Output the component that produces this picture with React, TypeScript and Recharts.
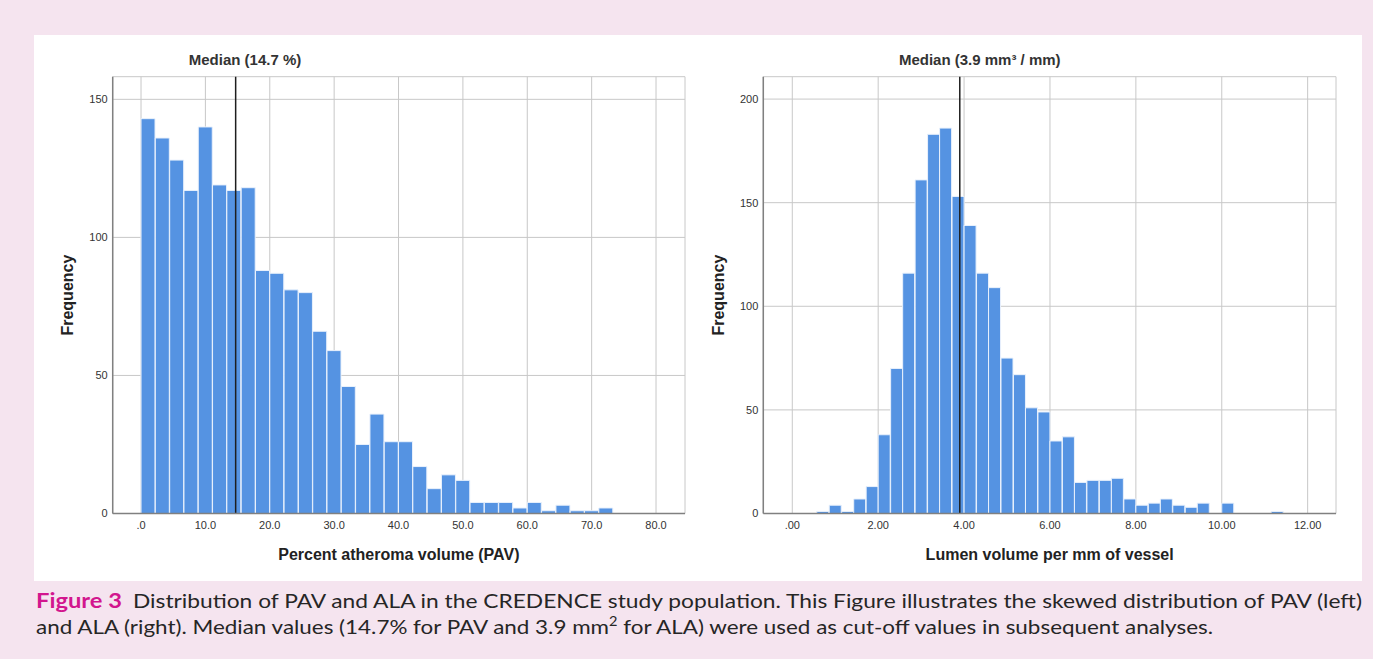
import React from 'react';
import { BarChart, Bar, XAxis, YAxis, CartesianGrid, ReferenceLine } from 'recharts';

// ---- Left histogram: Percent atheroma volume (PAV) ----
const pavBinCenters = [
  1.11, 3.33, 5.56, 7.78, 10.0, 12.22, 14.44, 16.67, 18.89, 21.11, 23.33,
  25.56, 27.78, 30.0, 32.22, 34.44, 36.67, 38.89, 41.11, 43.33, 45.56, 47.78,
  50.0, 52.22, 54.44, 56.67, 58.89, 61.11, 63.33, 65.56, 67.78, 70.0, 72.22,
];
const pavCounts = [
  143, 136, 128, 117, 140, 119, 117, 118, 88, 87, 81,
  80, 66, 59, 46, 25, 36, 26, 26, 17, 9, 14,
  12, 4, 4, 4, 2, 4, 1, 3, 1, 1, 2,
];
const pavTicks = [0, 10, 20, 30, 40, 50, 60, 70, 80];
const pavTickLabels = ['.0', '10.0', '20.0', '30.0', '40.0', '50.0', '60.0', '70.0', '80.0'];
const pavFreqTicks = [0, 50, 100, 150];
const pavMedian = 14.7;
const pavTitle = 'Median (14.7 %)';
const pavXLabel = 'Percent atheroma volume (PAV)';

// ---- Right histogram: Lumen volume per mm of vessel (ALA) ----
const alaBinCenters = [
  0.71, 1.0, 1.29, 1.57, 1.86, 2.14, 2.43, 2.71, 3.0, 3.29, 3.57, 3.86, 4.14,
  4.43, 4.71, 5.0, 5.29, 5.57, 5.86, 6.14, 6.43, 6.71, 7.0, 7.29, 7.57, 7.86,
  8.14, 8.43, 8.71, 9.0, 9.29, 9.57, 9.86, 10.14, 10.43, 10.71, 11.0, 11.29,
];
const alaCounts = [
  1, 4, 1, 7, 13, 38, 70, 116, 161, 183, 186, 153, 139,
  116, 109, 75, 67, 51, 49, 35, 37, 15, 16, 16, 17, 7,
  4, 5, 7, 4, 3, 5, 0, 5, 0, 0, 0, 1,
];
const alaTicks = [0, 2, 4, 6, 8, 10, 12];
const alaTickLabels = ['.00', '2.00', '4.00', '6.00', '8.00', '10.00', '12.00'];
const alaFreqTicks = [0, 50, 100, 150, 200];
const alaMedian = 3.9;
const alaTitle = 'Median (3.9 mm\u00B3 / mm)';
const alaXLabel = 'Lumen volume per mm of vessel';

const yLabel = 'Frequency';

const captionBold = 'Figure 3';
const captionLine1 = 'Distribution of PAV and ALA in the CREDENCE study population. This Figure illustrates the skewed distribution of PAV (left)';
const captionLine2a = 'and ALA (right). Median values (14.7% for PAV and 3.9 mm';
const captionLine2sup = '2';
const captionLine2b = ' for ALA) were used as cut-off values in subsequent analyses.';

const FONT = '"Liberation Sans", Arial, Helvetica, sans-serif';
const CAPTION_FONT = "Lato, 'Open Sans', sans-serif";
const BAR_COLOR = '#5593e2';
const GRID_COLOR = '#c8c8c8';
const AXIS_COLOR = '#808080';

type HistProps = {
  data: { x: number; count: number }[];
  xDomain: [number, number];
  yDomain: [number, number];
  xTicks: number[];
  xTickLabels: string[];
  yTicks: number[];
  median: number;
  title: string;
  titleDx: number;
  xLabel: string;
  margin: { top: number; right: number; bottom: number; left: number };
  yAxisWidth: number;
  width: number;
  height: number;
};

function Histogram(p: HistProps) {
  const renderTitle = (props: any) => {
    const vb = props.viewBox || {};
    return (
      <text
        x={vb.x + p.titleDx}
        y={vb.y - 12}
        textAnchor="middle"
        fontSize={15}
        fontWeight="bold"
        fill="#333333"
        fontFamily={FONT}
      >
        {p.title}
      </text>
    );
  };
  return (
    <BarChart
      width={p.width}
      height={p.height}
      data={p.data}
      margin={p.margin}
      barCategoryGap={0}
      barGap={0}
      style={{ fontFamily: FONT }}
    >
      <CartesianGrid stroke={GRID_COLOR} strokeWidth={1} />
      <XAxis
        type="number"
        dataKey="x"
        domain={p.xDomain}
        allowDataOverflow
        ticks={p.xTicks}
        interval={0}
        tickFormatter={(v: number) => {
          const i = p.xTicks.indexOf(v);
          return i >= 0 ? p.xTickLabels[i] : String(v);
        }}
        tickLine={false}
        tickSize={0}
        tickMargin={8}
        axisLine={{ stroke: AXIS_COLOR, strokeWidth: 1.5 }}
        tick={{ fill: '#333333', fontSize: 11 }}
        height={60}
        label={{
          value: p.xLabel,
          position: 'insideBottom',
          offset: 14,
          fill: '#222222',
          fontSize: 16,
          fontWeight: 'bold',
        }}
      />
      <YAxis
        type="number"
        domain={p.yDomain}
        allowDataOverflow
        ticks={p.yTicks}
        interval={0}
        tickLine={false}
        tickSize={0}
        tickMargin={5}
        width={p.yAxisWidth}
        axisLine={{ stroke: AXIS_COLOR, strokeWidth: 1.5 }}
        tick={{ fill: '#333333', fontSize: 11 }}
        label={{
          value: yLabel,
          angle: -90,
          position: 'center',
          fill: '#222222',
          fontSize: 16,
          fontWeight: 'bold',
        }}
      />
      <Bar
        dataKey="count"
        fill={BAR_COLOR}
        stroke="#e9f1fc"
        strokeWidth={1}
        isAnimationActive={false}
      />
      <ReferenceLine
        x={p.median}
        stroke="#1e1e1e"
        strokeWidth={1.5}
        ifOverflow="extendDomain"
        label={renderTitle}
      />
    </BarChart>
  );
}

export default function App() {
  const pavData = pavBinCenters.map((x, i) => ({ x, count: pavCounts[i] }));
  const alaData = alaBinCenters.map((x, i) => ({ x, count: alaCounts[i] }));
  return (
    <div
      style={{
        position: 'absolute',
        left: 0,
        top: 0,
        width: 1373,
        height: 659,
        background: '#f5e4ef',
        overflow: 'hidden',
      }}
    >
      <div
        style={{
          position: 'absolute',
          left: 34,
          top: 35,
          width: 1328,
          height: 546,
          background: '#ffffff',
        }}
      />
      <div style={{ position: 'absolute', left: 0, top: 0 }}>
        <Histogram
          data={pavData}
          xDomain={[-4.4, 84.5]}
          yDomain={[0, 158.2]}
          xTicks={pavTicks}
          xTickLabels={pavTickLabels}
          yTicks={pavFreqTicks}
          median={pavMedian}
          title={pavTitle}
          titleDx={9.4}
          xLabel={pavXLabel}
          margin={{ top: 76.7, right: 15, bottom: 6.5, left: 21.3 }}
          yAxisWidth={91.4}
          width={700}
          height={580}
        />
      </div>
      <div style={{ position: 'absolute', left: 660, top: 0 }}>
        <Histogram
          data={alaData}
          xDomain={[-0.675, 12.66]}
          yDomain={[0, 210.8]}
          xTicks={alaTicks}
          xTickLabels={alaTickLabels}
          yTicks={alaFreqTicks}
          median={alaMedian}
          title={alaTitle}
          titleDx={20}
          xLabel={alaXLabel}
          margin={{ top: 76.7, right: 24, bottom: 6.5, left: 12.7 }}
          yAxisWidth={90.6}
          width={700}
          height={580}
        />
      </div>
      <svg
        width={1373}
        height={659}
        style={{ position: 'absolute', left: 0, top: 0, pointerEvents: 'none' }}
      >
        <text
          x={36}
          y={608}
          fontFamily={CAPTION_FONT}
          fontSize={20}
          fontWeight="bold"
          fill="#d2168e"
          textLength={86}
          lengthAdjust="spacingAndGlyphs"
        >
          {captionBold}
        </text>
        <text
          x={133}
          y={608}
          fontFamily={CAPTION_FONT}
          fontSize={20}
          fill="#262626"
          textLength={1229}
          lengthAdjust="spacingAndGlyphs"
        >
          {captionLine1}
        </text>
        <text
          x={36}
          y={634}
          fontFamily={CAPTION_FONT}
          fontSize={20}
          fill="#262626"
          textLength={1177}
          lengthAdjust="spacingAndGlyphs"
        >
          {captionLine2a}
          <tspan dy={-8} fontSize={13}>{captionLine2sup}</tspan>
          <tspan dy={8}>{captionLine2b}</tspan>
        </text>
      </svg>
    </div>
  );
}
